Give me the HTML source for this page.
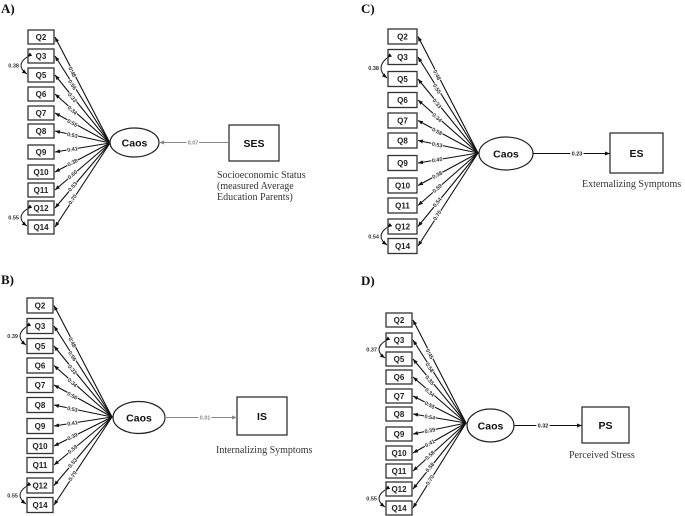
<!DOCTYPE html>
<html><head><meta charset="utf-8"><style>
html,body{margin:0;padding:0;background:#fff;}
svg{display:block;}
.q{font:bold 8px "Liberation Sans",sans-serif;fill:#222;text-anchor:middle;}
.l{font-family:"Liberation Sans",sans-serif;font-weight:bold;font-size:5.5px;fill:#333;text-anchor:middle;stroke:#fff;stroke-width:1.6px;paint-order:stroke;}
.c{font-family:"Liberation Sans",sans-serif;font-weight:bold;font-size:5.5px;fill:#333;text-anchor:end;}
.e{font:bold 10.5px "Liberation Sans",sans-serif;fill:#111;text-anchor:middle;}
.b{font:bold 10.5px "Liberation Sans",sans-serif;fill:#111;text-anchor:middle;}
.pl{font-family:"Liberation Sans",sans-serif;font-weight:bold;font-size:5.5px;text-anchor:middle;stroke:#fff;stroke-width:3px;paint-order:stroke;}
.cap{font:10px "Liberation Serif",serif;fill:#333;}
.h{font:bold 13px "Liberation Serif",serif;fill:#111;}
</style></head><body>
<svg id="sv" width="685" height="516" viewBox="0 0 685 516" xmlns="http://www.w3.org/2000/svg">
<defs>
<marker id="mk" markerUnits="userSpaceOnUse" markerWidth="5" markerHeight="4" refX="5" refY="2" orient="auto"><path d="M0,0 L5,2 L0,4 z" fill="#111"/></marker>
<marker id="mg" markerUnits="userSpaceOnUse" markerWidth="5" markerHeight="4" refX="5" refY="2" orient="auto"><path d="M0,0 L5,2 L0,4 z" fill="#888"/></marker>
</defs>
<g id="s"></g>
<text class="h" x="1" y="13">A)</text>
<text class="h" x="361" y="13">C)</text>
<text class="h" x="1" y="284">B)</text>
<text class="h" x="361" y="285">D)</text>
<text class="cap" x="217" y="178">Socioeconomic Status</text>
<text class="cap" x="217" y="189">(measured Average</text>
<text class="cap" x="217" y="200">Education Parents)</text>
<text class="cap" x="216" y="453">Internalizing Symptoms</text>
<text class="cap" x="582" y="187">Externalizing Symptoms</text>
<text class="cap" x="569" y="458">Perceived Stress</text>
<g id="p0">
<text class="q">Q2</text><text class="q">Q3</text><text class="q">Q5</text><text class="q">Q6</text><text class="q">Q7</text><text class="q">Q8</text><text class="q">Q9</text><text class="q">Q10</text><text class="q">Q11</text><text class="q">Q12</text><text class="q">Q14</text>
<text class="l">0.48</text><text class="l">0.56</text><text class="l">0.33</text><text class="l">0.34</text><text class="l">0.55</text><text class="l">0.53</text><text class="l">0.41</text><text class="l">0.38</text><text class="l">0.60</text><text class="l">0.53</text><text class="l">0.70</text>
<text class="c">0.38</text><text class="c">0.55</text>
<text class="e">Caos</text><text class="b">SES</text><text class="pl" fill="#888">0.07</text>
</g>
<g id="p1">
<text class="q">Q2</text><text class="q">Q3</text><text class="q">Q5</text><text class="q">Q6</text><text class="q">Q7</text><text class="q">Q8</text><text class="q">Q9</text><text class="q">Q10</text><text class="q">Q11</text><text class="q">Q12</text><text class="q">Q14</text>
<text class="l">0.48</text><text class="l">0.56</text><text class="l">0.33</text><text class="l">0.34</text><text class="l">0.56</text><text class="l">0.53</text><text class="l">0.41</text><text class="l">0.39</text><text class="l">0.59</text><text class="l">0.53</text><text class="l">0.70</text>
<text class="c">0.39</text><text class="c">0.55</text>
<text class="e">Caos</text><text class="b">IS</text><text class="pl" fill="#888">0.01</text>
</g>
<g id="p2">
<text class="q">Q2</text><text class="q">Q3</text><text class="q">Q5</text><text class="q">Q6</text><text class="q">Q7</text><text class="q">Q8</text><text class="q">Q9</text><text class="q">Q10</text><text class="q">Q11</text><text class="q">Q12</text><text class="q">Q14</text>
<text class="l">0.48</text><text class="l">0.55</text><text class="l">0.33</text><text class="l">0.34</text><text class="l">0.58</text><text class="l">0.53</text><text class="l">0.40</text><text class="l">0.38</text><text class="l">0.59</text><text class="l">0.54</text><text class="l">0.70</text>
<text class="c">0.38</text><text class="c">0.54</text>
<text class="e">Caos</text><text class="b">ES</text><text class="pl" fill="#222">0.23</text>
</g>
<g id="p3">
<text class="q">Q2</text><text class="q">Q3</text><text class="q">Q5</text><text class="q">Q6</text><text class="q">Q7</text><text class="q">Q8</text><text class="q">Q9</text><text class="q">Q10</text><text class="q">Q11</text><text class="q">Q12</text><text class="q">Q14</text>
<text class="l">0.45</text><text class="l">0.58</text><text class="l">0.35</text><text class="l">0.34</text><text class="l">0.55</text><text class="l">0.54</text><text class="l">0.39</text><text class="l">0.41</text><text class="l">0.58</text><text class="l">0.58</text><text class="l">0.70</text>
<text class="c">0.37</text><text class="c">0.55</text>
<text class="e">Caos</text><text class="b">PS</text><text class="pl" fill="#222">0.32</text>
</g>
</svg>
<script>
var NS="http://www.w3.org/2000/svg",S=document.getElementById('s');
function mk(tag,a){var e=document.createElementNS(NS,tag);for(var k in a)e.setAttribute(k,a[k]);S.appendChild(e);return e;}
var P=[
{x0:28,w:26,h:14,ys:[37,56,75,94,113,131,152,172,190,208,227],cx:110,cy:143,el:[134.5,142.5,24.5,14.5],bx:[229,125,50,36],inw:true,gray:true,lx:193},
{x0:27,w:26,h:15,ys:[305.5,326,346,365.5,385,405,426,446,465,485.5,505],cx:112,cy:417,el:[139,417.5,26,16],bx:[237,397,50,38],inw:false,gray:true,lx:205},
{x0:388,w:29,h:15,ys:[36.5,57,79,100,120.5,140.5,163,185.5,205.5,226.5,246],cx:478,cy:153,el:[506,153.5,27,16.5],bx:[610,133,53,40],inw:false,gray:false,lx:577},
{x0:386,w:26,h:14,ys:[320,340,359,377,396,414,434,453,471,489,508],cx:466,cy:423,el:[490.5,425.5,23.5,16.5],bx:[582,407,47,36],inw:false,gray:false,lx:543}
];
P.forEach(function(p,i){
 var t=document.getElementById('p'+i).querySelectorAll('text'),k=0,xr=p.x0+p.w;
 p.ys.forEach(function(y){
  mk('rect',{x:p.x0,y:y-p.h/2,width:p.w,height:p.h,fill:'#fff',stroke:'#333','stroke-width':1.3});
  t[k].setAttribute('x',p.x0+p.w/2);t[k].setAttribute('y',y+3);k++;
 });
 p.ys.forEach(function(y){
  mk('line',{x1:p.cx,y1:p.cy,x2:xr+1,y2:y,stroke:'#111','stroke-width':1.1,'marker-end':'url(#mk)'});
  var f=0.33,lx=xr+(p.cx-xr)*f,ly=y+(p.cy-y)*f,a=Math.atan2(p.cy-y,p.cx-xr)*180/Math.PI;
  t[k].setAttribute('x',lx);t[k].setAttribute('y',ly+2);t[k].setAttribute('transform','rotate('+a+' '+lx+' '+ly+')');k++;
 });
 [[1,2],[9,10]].forEach(function(c){
  var y1=p.ys[c[0]],y2=p.ys[c[1]],m=(y1+y2)/2;
  mk('path',{d:'M'+(p.x0-1)+','+(y1+1)+' Q'+(p.x0-13)+','+m+' '+(p.x0-1)+','+(y2-1),fill:'none',stroke:'#111','stroke-width':1,'marker-start':'url(#mk)','marker-end':'url(#mk)'});
  t[k].setAttribute('x',p.x0-9);t[k].setAttribute('y',m+2);k++;
 });
 var e=p.el;
 mk('ellipse',{cx:e[0],cy:e[1],rx:e[2],ry:e[3],fill:'#fff',stroke:'#222','stroke-width':1.2});
 t[k].setAttribute('x',e[0]);t[k].setAttribute('y',e[1]+4);k++;
 var b=p.bx;
 mk('rect',{x:b[0],y:b[1],width:b[2],height:b[3],fill:'#fff',stroke:'#222','stroke-width':1.2});
 t[k].setAttribute('x',b[0]+b[2]/2);t[k].setAttribute('y',b[1]+b[3]/2+4);k++;
 var col=p.gray?'#888':'#111',m=p.gray?'url(#mg)':'url(#mk)';
 if(p.inw) mk('line',{x1:b[0],y1:e[1],x2:e[0]+e[2],y2:e[1],stroke:col,'stroke-width':1,'marker-end':m});
 else mk('line',{x1:e[0]+e[2],y1:e[1],x2:b[0],y2:e[1],stroke:col,'stroke-width':1,'marker-end':m});
 t[k].setAttribute('x',p.lx);t[k].setAttribute('y',e[1]+2);k++;
});
</script>
</body></html>
